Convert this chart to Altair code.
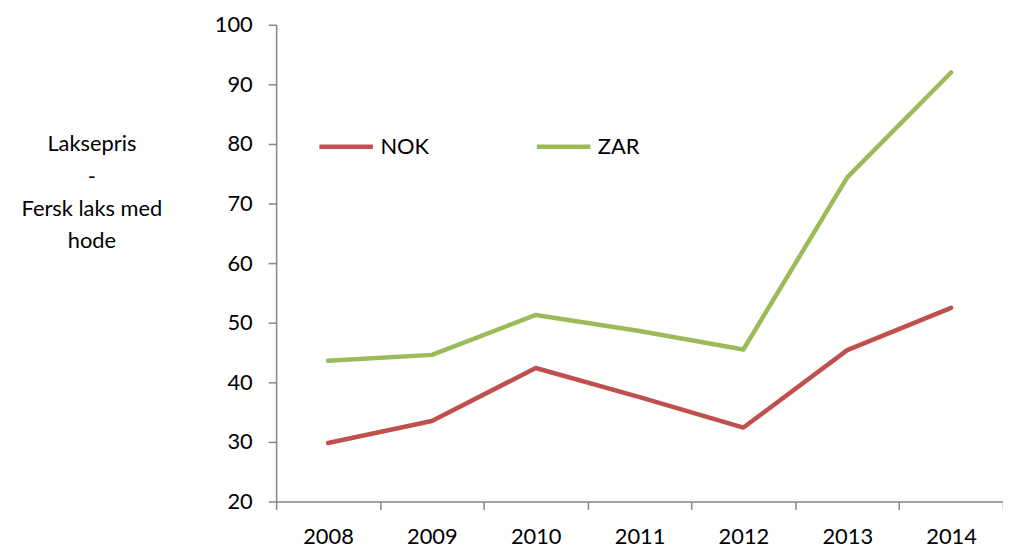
import altair as alt
import pandas as pd

years = ["2008", "2009", "2010", "2011", "2012", "2013", "2014"]
nok = [29.8, 33.5, 42.4, 37.5, 32.4, 45.4, 52.5]
zar = [43.6, 44.6, 51.3, 48.6, 45.5, 74.4, 92.0]
series = ["NOK", "ZAR"]
colors = ["#C0504D", "#9BBB59"]
y_title = ["Laksepris", "-", "Fersk laks med", "hode"]
y_ticks = [20, 30, 40, 50, 60, 70, 80, 90, 100]

rows = []
for s, vals in zip(series, [nok, zar]):
    for yr, v in zip(years, vals):
        rows.append({"year": yr, "value": v, "series": s})
df = pd.DataFrame(rows)

FONT = "Lato"

chart = alt.Chart(df).mark_line(strokeWidth=4.5, strokeCap="round", strokeJoin="round").encode(
    x=alt.X("year:O", sort=years,
            scale=alt.Scale(type="band", paddingInner=0, paddingOuter=0),
            axis=alt.Axis(title=None, labelAngle=0, tickBand="extent", tickSize=8,
                          labelPadding=17, labelFontSize=22, labelFont=FONT, labelColor="#000000",
                          domainColor="#868686", tickColor="#868686", domainWidth=1.5, tickWidth=1.5,
                          grid=False)),
    y=alt.Y("value:Q",
            scale=alt.Scale(domain=[20, 100], nice=False, zero=False),
            axis=alt.Axis(values=y_ticks, title=y_title, titleAngle=0, titleAlign="center",
                          titleBaseline="middle", titleX=-186, titleY=120, titleFontSize=22,
                          titleFont=FONT, titleFontWeight="normal", titleColor="#000000",
                          titleLineHeight=32.5,
                          tickSize=8, labelPadding=16, labelFontSize=22, labelFont=FONT,
                          labelColor="#000000", domainColor="#868686", tickColor="#868686",
                          domainWidth=1.5, tickWidth=1.5, grid=False)),
    color=alt.Color("series:N", scale=alt.Scale(domain=series, range=colors),
                    legend=alt.Legend(title=None, orient="none", legendX=41, legendY=93,
                                      direction="horizontal", columns=2, symbolType="stroke",
                                      symbolSize=2900, symbolStrokeWidth=4.5, labelFontSize=22,
                                      labelFont=FONT, labelColor="#000000", labelOffset=5,
                                      columnPadding=99, padding=0)),
).properties(
    width=732, height=480,
    autosize=alt.AutoSizeParams(type="none"),
    padding={"left": 270, "top": 15, "right": 0, "bottom": 50},
).configure_view(stroke=None)

chart.save("out.html", embed_options={"renderer": "svg", "actions": False})
